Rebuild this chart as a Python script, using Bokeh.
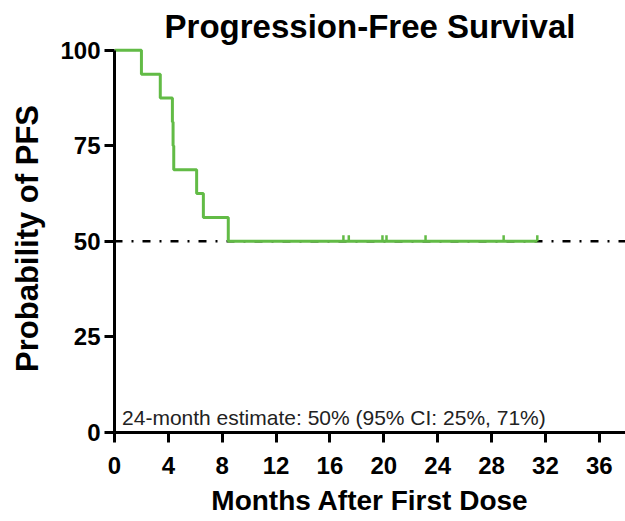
from bokeh.plotting import figure
from bokeh.models import Range1d, FixedTicker, Label
from bokeh.embed import file_html
from bokeh.resources import INLINE

# Data
event_times = [0.0, 2.0, 3.4, 4.3, 4.35, 4.4, 6.1, 6.6, 8.45, 31.4]
survival = [100.0, 93.75, 87.5, 81.25, 75.0, 68.75, 62.5, 56.25, 50.0, 50.0]
censor_times = [17.0, 17.4, 19.9, 20.2, 23.1, 28.9, 31.4]
censor_surv = [50.0, 50.0, 50.0, 50.0, 50.0, 50.0, 50.0]
median_level = [50.0, 50.0]
median_span = [0.0, 38.0]
x_ticks = [0, 4, 8, 12, 16, 20, 24, 28, 32, 36]
y_ticks = [0, 25, 50, 75, 100]
title_text = "Progression-Free Survival"
x_label = "Months After First Dose"
y_label = "Probability of PFS"
note = "24-month estimate: 50% (95% CI: 25%, 71%)"

GREEN = "#62BB46"
FONT = "Liberation Sans"

p = figure(width=625, height=521, output_backend="svg", toolbar_location=None,
           x_range=Range1d(0, 37.95), y_range=Range1d(0, 101.5),
           min_border_left=114, min_border_right=0, min_border_top=44,
           min_border_bottom=89)
p.outline_line_color = None
p.grid.visible = False
p.background_fill_color = "white"

p.title.text = title_text
p.title.align = "center"
p.title.text_font = FONT
p.title.text_font_style = "bold"
p.title.text_font_size = "33px"
p.title.text_color = "black"
p.title.standoff = 0

# median dash-dot reference
p.line(median_span, median_level, line_color="black", line_width=2.5,
       line_dash="8 9 2 9")

# KM step curve
p.step(event_times, survival, mode="after", line_color=GREEN, line_width=3)

# censor marks
tick_h = 1.6
p.segment(x0=censor_times, y0=censor_surv, x1=censor_times,
          y1=[s + tick_h for s in censor_surv], line_color=GREEN, line_width=2.5)

for ax in (p.xaxis[0], p.yaxis[0]):
    ax.axis_line_width = 3
    ax.axis_line_color = "black"
    ax.major_tick_line_width = 3
    ax.major_tick_line_color = "black"
    ax.major_tick_in = 0
    ax.major_tick_out = 10
    ax.minor_tick_line_color = None
    ax.major_label_text_font = FONT
    ax.major_label_text_font_style = "bold"
    ax.major_label_text_font_size = "24px"
    ax.major_label_text_color = "black"
    ax.axis_label_text_font = FONT
    ax.axis_label_text_font_style = "bold"
    ax.axis_label_text_color = "black"

p.xaxis.axis_label_text_font_size = "28px"
p.yaxis.axis_label_text_font_size = "31px"
p.xaxis.ticker = FixedTicker(ticks=x_ticks)
p.yaxis.ticker = FixedTicker(ticks=y_ticks)
p.yaxis.bounds = (0, 100)
p.xaxis.axis_label = x_label
p.yaxis.axis_label = y_label
p.xaxis.major_label_standoff = 14
p.yaxis.major_label_standoff = 4
p.xaxis.axis_label_standoff = 8
p.yaxis.axis_label_standoff = 12

p.add_layout(Label(x=0.56, y=3.9, text=note, text_align="left",
                   text_baseline="alphabetic", text_font=FONT,
                   text_font_size="21px", text_color="#222222"))

open("out.html", "w").write(file_html(p, INLINE))
